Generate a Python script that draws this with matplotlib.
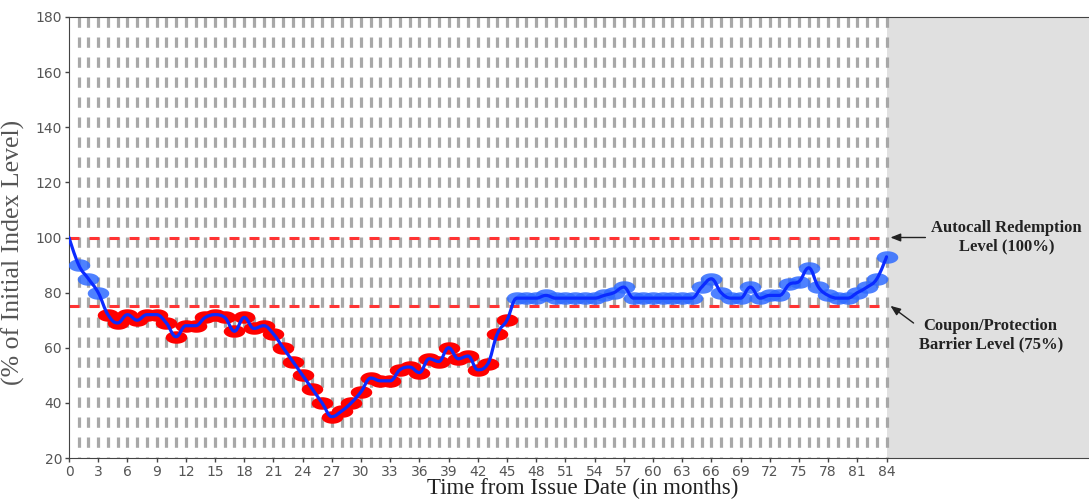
import numpy as np
import matplotlib.pyplot as plt
from matplotlib.path import Path
from matplotlib.patches import PathPatch
mpl_config = {
    'font.family': 'DejaVu Sans',
    'font.size': 10,
    'lines.scale_dashes': False,
}
plt.rcParams.update(mpl_config)
del mpl_config

# monthly index level (% of initial), months 0..84
months = np.arange(0, 85)
levels = [100, 90, 85, 80, 72, 69, 72, 70, 72, 72,
          69, 64, 68, 68, 71, 72, 71, 66, 71, 67,
          68, 65, 60, 55, 50, 45, 40, 35, 37, 40,
          44, 49, 48, 48, 52, 53, 51, 56, 55, 60,
          56, 57, 52, 54, 65, 70, 78, 78, 78, 79,
          78, 78, 78, 78, 78, 79, 80, 82, 78, 78,
          78, 78, 78, 78, 78, 82, 85, 80, 78, 78,
          82, 78, 79, 79, 83, 84, 89, 82, 79, 78,
          78, 80, 82, 85, 93]
barrier = 75
autocall = 100
x_ticks = list(range(0, 85, 3))
y_ticks = list(range(20, 181, 20))


def spline_path(x, y, smoothing=1.5):
    # bezier control points in the style of a "spline" series
    n = len(x)
    denom = smoothing + 1
    left = [(x[0], y[0])] * n
    right = [(x[0], y[0])] * n
    for i in range(n):
        px, py = x[i], y[i]
        if i == 0 or i == n - 1:
            left[i] = (px, py)
            right[i] = (px, py)
            continue
        lx, ly = x[i - 1], y[i - 1]
        nx, ny = x[i + 1], y[i + 1]
        lcx = (smoothing * px + lx) / denom
        lcy = (smoothing * py + ly) / denom
        rcx = (smoothing * px + nx) / denom
        rcy = (smoothing * py + ny) / denom
        corr = ((rcy - lcy) * (rcx - px)) / (rcx - lcx) + py - rcy
        lcy += corr
        rcy += corr
        if lcy > ly and lcy > py:
            lcy = max(ly, py)
            rcy = 2 * py - lcy
        elif lcy < ly and lcy < py:
            lcy = min(ly, py)
            rcy = 2 * py - lcy
        if rcy > ny and rcy > py:
            rcy = max(ny, py)
            lcy = 2 * py - rcy
        elif rcy < ny and rcy < py:
            rcy = min(ny, py)
            lcy = 2 * py - rcy
        left[i] = (lcx, lcy)
        right[i] = (rcx, rcy)
    verts = [(x[0], y[0])]
    codes = [Path.MOVETO]
    for i in range(1, n):
        verts += [right[i - 1], left[i], (x[i], y[i])]
        codes += [Path.CURVE4] * 3
    return Path(verts, codes)


fig = plt.figure(figsize=(10.89, 5.03), dpi=100)
ax = fig.add_axes([69 / 1089, 45 / 503, 1020 / 1089, 441 / 503])

ax.set_xlim(0, 104.8)
ax.set_ylim(20, 180)
ax.axvspan(84, 104.8, color='#e0e0e0', lw=0, zorder=0)

ax.vlines(months[1:], 180, 20, colors='#a8a8a8', linewidth=2.3,
          linestyles=[(0, (7.4, 7.0))], zorder=1)
ax.hlines([autocall, barrier], 0, 84, colors='#ff3333', linewidth=2.2,
          linestyles=[(0, (7.2, 7.2))], zorder=2)

theta = np.linspace(0, 2 * np.pi, 60)
ellipse = Path(np.column_stack([np.cos(theta), 0.58 * np.sin(theta)]), closed=True)

lv = np.array(levels, dtype=float)
below = (lv < barrier) & (months > 0)
above = (lv >= barrier) & (months > 0)
ax.plot(months[below], lv[below], linestyle='none', marker=ellipse,
        markersize=15.5, color='#ff0000', markeredgewidth=0, zorder=3)
ax.plot(months[above], lv[above], linestyle='none', marker=ellipse,
        markersize=15.5, color='#2f6bff', alpha=0.85, markeredgewidth=0, zorder=3)

ax.add_patch(PathPatch(spline_path(list(months), levels), fill=False,
                       edgecolor='#0b2bff', linewidth=2.3, zorder=4,
                       capstyle='round', joinstyle='round'))

ax.set_xticks(x_ticks)
ax.set_yticks(y_ticks)
ax.tick_params(axis='both', colors='#444444', labelcolor='#555555',
               length=3, width=1, pad=2, labelsize=10)
for side in ['left', 'bottom', 'top']:
    ax.spines[side].set_color('#444444')
ax.spines['right'].set_visible(False)

ax.set_ylabel('(% of Initial Index Level)', family='Liberation Serif',
              fontsize=18.5, color='#555555')
ax.yaxis.set_label_coords(-0.043, 0.467)
ax.set_xlabel('Time from Issue Date (in months)', family='Liberation Serif',
              fontsize=16.5, color='#222222')
ax.xaxis.set_label_coords(0.504, -0.046)

arrow = dict(arrowstyle='-|>,head_length=0.5,head_width=0.2', color='#222222',
             lw=1, shrinkA=2, shrinkB=0)
ax.annotate('Autocall Redemption\nLevel (100%)', xy=(84.4, 100),
            xytext=(96.3, 100), ha='center', va='center',
            family='Liberation Serif', fontweight='bold', fontsize=12,
            color='#222222', arrowprops=dict(arrow, relpos=(0, 0.5)))
ax.annotate('Coupon/Protection\nBarrier Level (75%)', xy=(84.4, 75.2),
            xytext=(94.7, 64.5), ha='center', va='center',
            family='Liberation Serif', fontweight='bold', fontsize=12,
            color='#222222', arrowprops=dict(arrow, relpos=(0, 0.75)))

plt.savefig('out.png', dpi=100)
